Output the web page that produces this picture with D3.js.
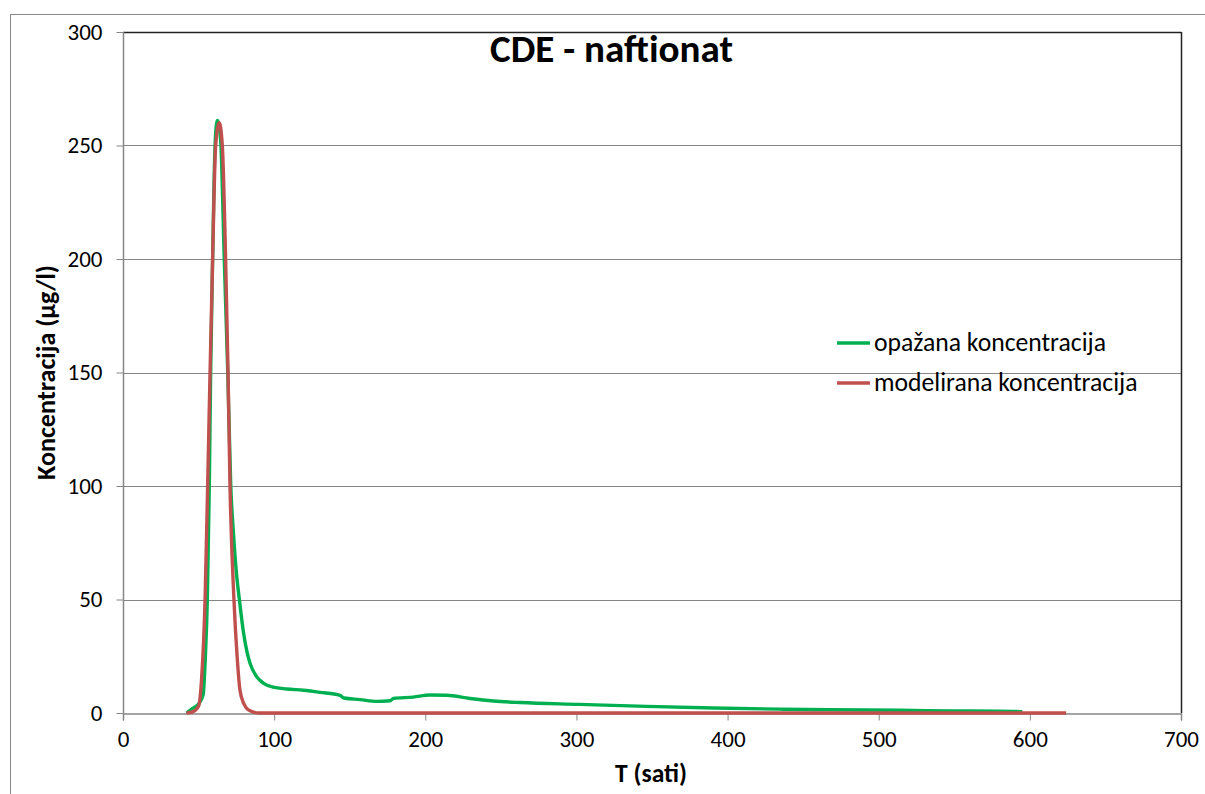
<!DOCTYPE html>
<html><head><meta charset="utf-8">
<script src="https://cdn.jsdelivr.net/npm/d3@7"></script>
<style>body{margin:0;background:#fff}svg{display:block}</style>
</head><body>
<svg id="c" width="1205" height="794"></svg>
<script>
const titleText = "CDE - naftionat";
const xLabel = "T (sati)";
const yLabel = "Koncentracija (µg/l)";
const seriesNames = ["opažana koncentracija", "modelirana koncentracija"];
const xTicks = [0, 100, 200, 300, 400, 500, 600, 700];
const yTicks = [0, 50, 100, 150, 200, 250, 300];

const observedT = [42, 46, 50, 53, 54.5, 55.8, 57.1, 58, 59.3, 60.9, 62.4, 63.5, 64.8, 67, 69.3, 71.3, 73, 75, 77, 79.6, 82, 84, 88.4, 92.8, 99.4, 108.3, 119.3, 130.3, 143.6, 146.2, 156.8, 167.9, 176.7, 178.9, 192.1, 203.1, 214.2, 229.6, 245, 262.7, 302.4, 346.5, 390.6, 434.7, 467.8, 514, 550, 580, 595];
const observedV = [0, 2, 4, 8, 25, 50, 100, 150, 200, 250, 261, 259, 250, 200, 150, 100, 80, 62, 50, 36, 27, 22, 16, 13.2, 11.4, 10.6, 10.0, 9.1, 7.8, 6.6, 5.9, 5.1, 5.4, 6.4, 7.0, 7.9, 7.8, 6.4, 5.3, 4.6, 3.8, 2.9, 2.2, 1.7, 1.4, 1.2, 0.9, 0.8, 0.6];

const modelT = [42, 46, 50, 52, 54.3, 56, 57.6, 59.3, 61.3, 63.7, 65.7, 67.9, 69.5, 70.8, 73.4, 75.5, 77.4, 80, 82.7, 86, 90, 100, 200, 300, 400, 500, 624];
const modelV = [0, 0.5, 3, 15, 50, 100, 150, 200, 250, 260, 250, 200, 150, 100, 50, 25, 10, 4, 1.5, 0.5, 0, 0, 0, 0, 0, 0, 0];

const svg = d3.select("#c");
const font = "Calibri, Carlito, 'Open Sans', sans-serif";
const L = 123, R = 1181, T = 32, B = 713;
const x = d3.scaleLinear().domain([0, 700]).range([L, R]);
const y = d3.scaleLinear().domain([0, 300]).range([B, T]);

function fit(sel, target) {
  const s = +sel.attr("font-size");
  const w = sel.node().getComputedTextLength();
  if (w > 0) sel.attr("font-size", (s * target / w).toFixed(2));
  return sel;
}

// outer chart frame
svg.append("rect").attr("x", 10.5).attr("y", 14.5).attr("width", 1210).attr("height", 800)
  .attr("fill", "none").attr("stroke", "#888").attr("stroke-width", 1);

// gridlines
svg.append("g").selectAll("line").data(yTicks.filter(d => d > 0 && d < 300)).join("line")
  .attr("x1", L).attr("x2", R).attr("y1", d => Math.round(y(d)) + 0.5).attr("y2", d => Math.round(y(d)) + 0.5)
  .attr("stroke", "#868686").attr("stroke-width", 1);

// plot area border top/right
svg.append("line").attr("x1", L).attr("x2", R + 0.5).attr("y1", T + 0.5).attr("y2", T + 0.5).attr("stroke", "#222").attr("stroke-width", 1.5);
svg.append("line").attr("x1", R + 0.5).attr("x2", R + 0.5).attr("y1", T).attr("y2", B).attr("stroke", "#222").attr("stroke-width", 1.5);

// tick font size from reference "300" width ≈ 35px
const probe = svg.append("text").attr("font-family", font).attr("font-size", 20).text("300");
fit(probe, 35);
const tickSize = +probe.attr("font-size");
probe.remove();

// axes
const yAxis = d3.axisLeft(y).tickValues(yTicks).tickSize(7).tickPadding(14);
const xAxis = d3.axisBottom(x).tickValues(xTicks).tickSize(7).tickPadding(10);
const gy = svg.append("g").attr("transform", `translate(${L + 0.5},0)`).call(yAxis);
const gx = svg.append("g").attr("transform", `translate(0,${B + 0.5})`).call(xAxis);
[gx, gy].forEach(g => {
  g.attr("font-family", null).attr("font-size", null);
  g.select(".domain").attr("stroke", "#868686").attr("stroke-width", 1.5);
  g.selectAll(".tick line").attr("stroke", "#868686");
  g.selectAll(".tick text").attr("font-family", font).attr("font-size", tickSize).attr("fill", "#000");
});
gy.select(".domain").attr("d", `M0,${B}V${T}`);

// lines
const line = d3.line().x(d => x(d[0])).y(d => y(d[1])).curve(d3.curveMonotoneX);
const obs = observedT.map((t, i) => [t, observedV[i]]);
const mod = modelT.map((t, i) => [t, modelV[i]]);
svg.append("path").attr("d", line(obs)).attr("fill", "none").attr("stroke", "#00B050").attr("stroke-width", 3.4).attr("stroke-linejoin", "round");
svg.append("path").attr("d", line(mod)).attr("fill", "none").attr("stroke", "#C0504D").attr("stroke-width", 3.4).attr("stroke-linejoin", "round");

// title
const tt = svg.append("text").attr("x", 611.5).attr("y", 62).attr("text-anchor", "middle")
  .attr("font-family", font).attr("font-weight", "bold").attr("font-size", 30).text(titleText);
fit(tt, 243);

// axis labels
const xl = svg.append("text").attr("x", 651).attr("y", 782).attr("text-anchor", "middle")
  .attr("font-family", font).attr("font-weight", "bold").attr("font-size", 17).text(xLabel);
fit(xl, 72);
const yl = svg.append("text").attr("transform", "translate(55,372.5) rotate(-90)").attr("text-anchor", "middle")
  .attr("font-family", font).attr("font-weight", "bold").attr("font-size", 17).text(yLabel);
fit(yl, 215);

// legend
const legColors = ["#00B050", "#C0504D"];
const lg = svg.append("g");
seriesNames.forEach((n, i) => {
  const yy = 343 + i * 40;
  lg.append("line").attr("x1", 837).attr("x2", 870).attr("y1", yy).attr("y2", yy)
    .attr("stroke", legColors[i]).attr("stroke-width", 3.4);
  const t = lg.append("text").attr("x", 874).attr("y", yy + 8).attr("font-family", font).attr("font-size", 20).text(n);
  if (i === 0) fit(t, 232);
  else t.attr("font-size", lg.select("text").attr("font-size"));
});
</script>
</body></html>
